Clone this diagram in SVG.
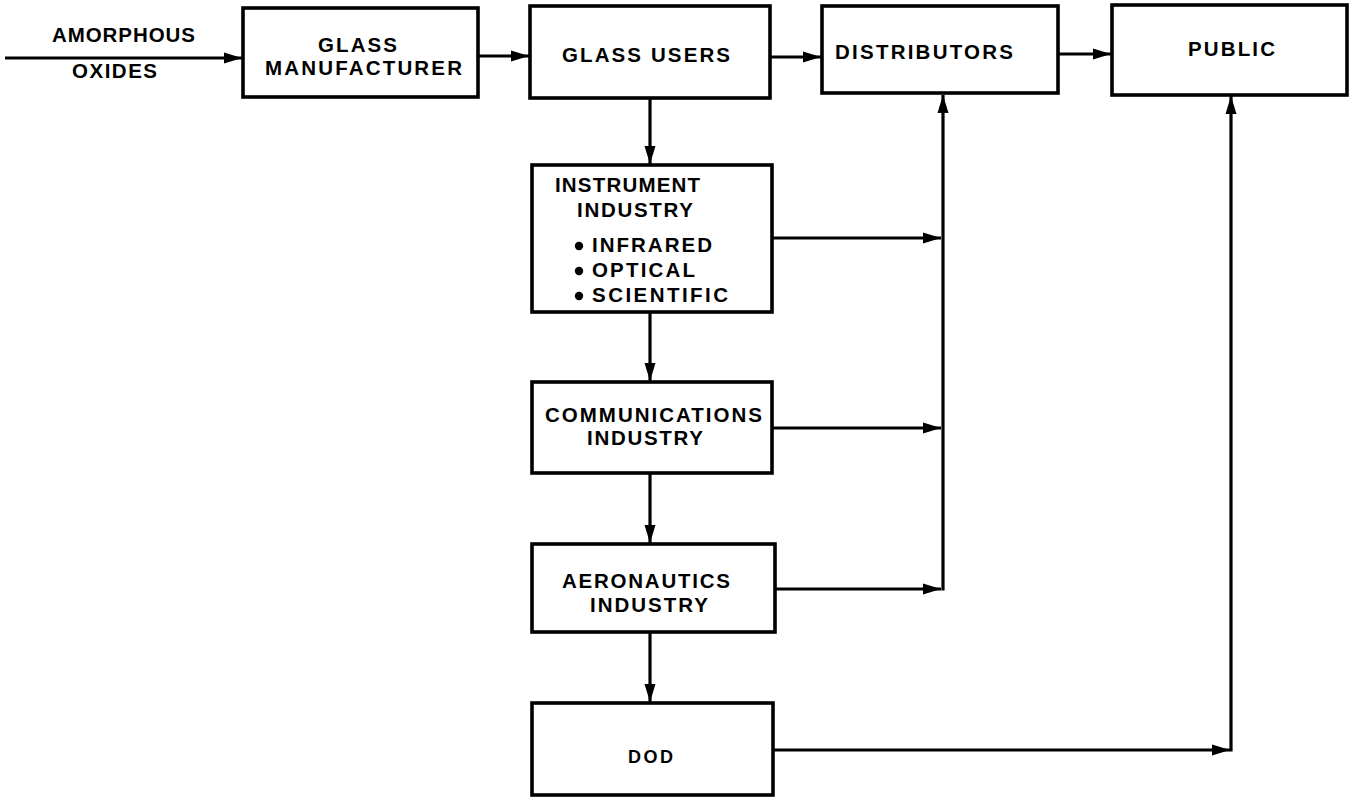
<svg xmlns="http://www.w3.org/2000/svg" width="1351" height="798" viewBox="0 0 1351 798">
  <style>
    .box { fill: #fff; stroke: #000; stroke-width: 3.6; }
    .lbl { font-family: "Liberation Sans", Arial, sans-serif; font-weight: bold; font-size: 20.5px; fill: #000; }
    .c { text-anchor: middle; }
    .wire { fill: none; stroke: #000; stroke-width: 3.2; }
  </style>
  <defs>
    <marker id="head" viewBox="0 0 18 12" refX="18" refY="6" markerWidth="18" markerHeight="12" markerUnits="userSpaceOnUse" orient="auto">
      <path d="M0,0.5 L18,6 L0,11.5 Z" fill="#000"/>
    </marker>
  </defs>
  <rect width="1351" height="798" fill="#fff"/>

  <!-- flow connectors -->
  <g id="connectors">
    <path class="wire" d="M5,58 L242,58" marker-end="url(#head)"/>
    <path class="wire" d="M478,56 L529,56" marker-end="url(#head)"/>
    <path class="wire" d="M770,57 L821,57" marker-end="url(#head)"/>
    <path class="wire" d="M1058,54 L1111,54" marker-end="url(#head)"/>

    <!-- main vertical chain -->
    <path class="wire" d="M650,98 L650,164" marker-end="url(#head)"/>
    <path class="wire" d="M650,312 L650,381" marker-end="url(#head)"/>
    <path class="wire" d="M650,473 L650,543" marker-end="url(#head)"/>
    <path class="wire" d="M650,632 L650,702" marker-end="url(#head)"/>

    <!-- industries to distributors -->
    <path class="wire" d="M772,238 L941,238" marker-end="url(#head)"/>
    <path class="wire" d="M772,428 L941,428" marker-end="url(#head)"/>
    <path class="wire" d="M775,589 L941,589" marker-end="url(#head)"/>
    <path class="wire" d="M943,590.5 L943,95" marker-end="url(#head)"/>

    <!-- DOD to public -->
    <path class="wire" d="M773,750 L1230,750" marker-end="url(#head)"/>
    <path class="wire" d="M1231,751.5 L1231,96" marker-end="url(#head)"/>
  </g>

  <g id="amorphous-oxides">
    <text class="lbl c" x="123.5" y="42" textLength="143" lengthAdjust="spacing">AMORPHOUS</text>
    <text class="lbl c" x="114.5" y="78" textLength="85" lengthAdjust="spacing">OXIDES</text>
  </g>

  <g id="glass-manufacturer">
    <rect class="box" x="243" y="8" width="235" height="89"/>
    <text class="lbl c" x="357.5" y="52" textLength="79" lengthAdjust="spacing">GLASS</text>
    <text class="lbl c" x="363.5" y="75" textLength="197" lengthAdjust="spacing">MANUFACTURER</text>
  </g>

  <g id="glass-users">
    <rect class="box" x="530" y="6" width="240" height="92"/>
    <text class="lbl c" x="646" y="62" textLength="168" lengthAdjust="spacing">GLASS USERS</text>
  </g>

  <g id="distributors">
    <rect class="box" x="822" y="6" width="236" height="87"/>
    <text class="lbl c" x="924" y="59" textLength="178" lengthAdjust="spacing">DISTRIBUTORS</text>
  </g>

  <g id="public">
    <rect class="box" x="1112" y="5" width="235" height="90"/>
    <text class="lbl c" x="1231.5" y="56" textLength="87" lengthAdjust="spacing">PUBLIC</text>
  </g>

  <g id="instrument-industry">
    <rect class="box" x="532" y="165" width="240" height="147"/>
    <text class="lbl c" x="627.5" y="192" textLength="145" lengthAdjust="spacing">INSTRUMENT</text>
    <text class="lbl c" x="635" y="217" textLength="116" lengthAdjust="spacing">INDUSTRY</text>
    <circle cx="579" cy="246" r="4.2" fill="#000"/>
    <text class="lbl" x="592" y="252" textLength="120" lengthAdjust="spacing">INFRARED</text>
    <circle cx="579" cy="271" r="4.2" fill="#000"/>
    <text class="lbl" x="592" y="277" textLength="103" lengthAdjust="spacing">OPTICAL</text>
    <circle cx="579" cy="296" r="4.2" fill="#000"/>
    <text class="lbl" x="592" y="302" textLength="136" lengthAdjust="spacing">SCIENTIFIC</text>
  </g>

  <g id="communications-industry">
    <rect class="box" x="532" y="382" width="240" height="91"/>
    <text class="lbl c" x="653.5" y="422" textLength="217" lengthAdjust="spacing">COMMUNICATIONS</text>
    <text class="lbl c" x="645" y="445" textLength="116" lengthAdjust="spacing">INDUSTRY</text>
  </g>

  <g id="aeronautics-industry">
    <rect class="box" x="532" y="544" width="243" height="88"/>
    <text class="lbl c" x="646" y="588" textLength="168" lengthAdjust="spacing">AERONAUTICS</text>
    <text class="lbl c" x="649" y="612" textLength="118" lengthAdjust="spacing">INDUSTRY</text>
  </g>

  <g id="dod">
    <rect class="box" x="532" y="703" width="241" height="92"/>
    <text class="lbl c" x="650.5" y="763" textLength="45" lengthAdjust="spacing" style="font-size:18px">DOD</text>
  </g>
</svg>
